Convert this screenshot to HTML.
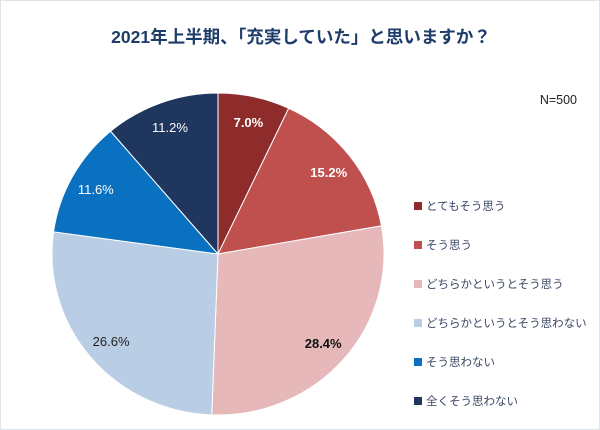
<!DOCTYPE html>
<html><head><meta charset="utf-8"><style>
body{margin:0;background:#fff;}
#wrap{position:relative;width:600px;height:430px;box-sizing:border-box;border:1px solid #dfe3ea;background:#fff;font-family:"Liberation Sans","Noto Sans CJK JP",sans-serif;overflow:hidden}
</style></head><body>
<div id="wrap">
<svg id="chart" width="600" height="430" style="position:absolute;left:0;top:0">
<text x="300" y="42" text-anchor="middle" font-size="17.5" font-weight="bold" fill="#1f3d6b" font-family="Liberation Sans, Noto Sans CJK JP, sans-serif">2021年上半期、「充実していた」と思いますか？</text>
<text x="576" y="103" text-anchor="end" font-size="12.5" fill="#222" font-family="Liberation Sans, sans-serif">N=500</text>
<g id="slices"></g><g id="labels"></g><g id="legend"></g>
</svg>
</div>
<script>
const categories=["とてもそう思う","そう思う","どちらかというとそう思う","どちらかというとそう思わない","そう思わない","全くそう思わない"];
const values=[7.0,15.2,28.4,26.6,11.6,11.2];
const valueLabels=["7.0%","15.2%","28.4%","26.6%","11.6%","11.2%"];
const colors=["#8e2c2c","#c0504d","#e6b8b9","#b9cde4","#0a70c0","#1f375f"];
const labelColors=["#fff","#fff","#111","#222","#fff","#fff"];
const labelWeights=["bold","bold","bold","normal","normal","normal"];
const NS="http://www.w3.org/2000/svg";
const cx=217,cy=253,RX=166,RY=161;
const total=values.reduce((a,b)=>a+b,0);
const sl=document.getElementById('slices'),lb=document.getElementById('labels'),lg=document.getElementById('legend');
function pt(a,f){return [cx+RX*f*Math.sin(a),cy-RY*f*Math.cos(a)];}
let acc=0;
values.forEach((v,i)=>{
 const a0=acc/total*2*Math.PI;acc+=v;const a1=acc/total*2*Math.PI;
 const p0=pt(a0,1),p1=pt(a1,1);
 const p=document.createElementNS(NS,'path');
 p.setAttribute('d',`M${cx},${cy}L${p0[0]},${p0[1]}A${RX},${RY} 0 ${a1-a0>Math.PI?1:0} 1 ${p1[0]},${p1[1]}Z`);
 p.setAttribute('fill',colors[i]);p.setAttribute('stroke','#fff');p.setAttribute('stroke-width','1');
 
 
 sl.appendChild(p);
 const m=(a0+a1)/2;const lp=pt(m,0.84);
 const t=document.createElementNS(NS,'text');
 t.setAttribute('x',lp[0]);t.setAttribute('y',lp[1]+5);t.setAttribute('text-anchor','middle');
 t.setAttribute('font-size','13');t.setAttribute('font-weight',labelWeights[i]);t.setAttribute('fill',labelColors[i]);
 t.textContent=valueLabels[i];
 
 
 lb.appendChild(t);
 const y=205+i*39;
 const r=document.createElementNS(NS,'rect');
 r.setAttribute('x',413);r.setAttribute('y',y-4);r.setAttribute('width',8);r.setAttribute('height',8);r.setAttribute('fill',colors[i]);
 
 
 lg.appendChild(r);
 const lt=document.createElementNS(NS,'text');
 lt.setAttribute('x',425);lt.setAttribute('y',y+4);lt.setAttribute('font-size','11.5');lt.setAttribute('fill','#3c4766');
 lt.setAttribute('font-family','Liberation Sans, Noto Sans CJK JP, sans-serif');
 lt.textContent=categories[i];
 
 
 lg.appendChild(lt);
});
</script>
</body></html>
